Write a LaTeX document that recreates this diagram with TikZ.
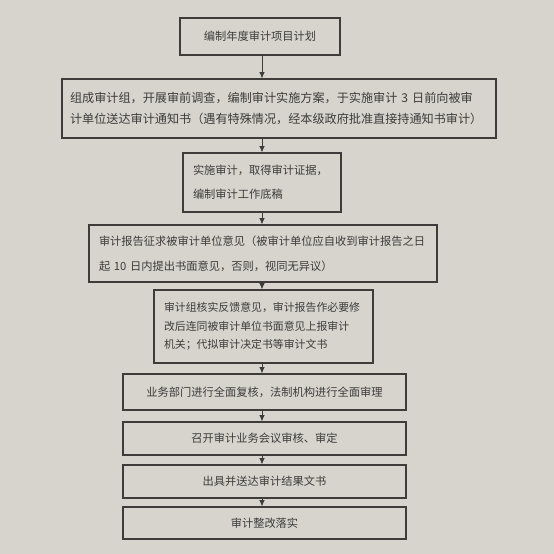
\documentclass[tikz,border=0pt]{standalone}
\usepackage{fontspec}
\setmainfont{Noto Sans CJK SC}
\usetikzlibrary{arrows.meta}
\definecolor{paper}{RGB}{214,212,205}
\definecolor{ink}{RGB}{62,60,58}
\tikzset{
    stage/.style={draw=ink, line width=0.7pt, fill=paper, text=ink, inner sep=0pt,
        font=\fontsize{6.4}{11}\selectfont},
    flow/.style={draw=ink, line width=0.5pt, -{Latex[length=3.6pt,width=3.2pt]}}
}
\begin{document}
\begin{tikzpicture}
        \fill[paper] (0,0) rectangle (11.08,-11.08);
        \coordinate (axis) at (5.24,0);
        \node[stage, minimum width=3.2cm, minimum height=0.74cm] (plan) at (5.2,-0.73) {编制年度审计项目计划};
        \node[stage, minimum width=8.68cm, minimum height=1.18cm, text width=8.36cm, align=left,
            font=\fontsize{6.9}{11.4}\selectfont] (notice) at (5.58,-2.17)
            {组成审计组，开展审前调查，编制审计实施方案，于实施审计 3 日前向被审\\计单位送达审计通知书（遇有特殊情况，经本级政府批准直接持通知书审计）};
        \node[stage, minimum width=3.16cm, minimum height=1.18cm, text width=2.76cm, align=left,
            font=\fontsize{6.4}{13.6}\selectfont] (work) at (5.24,-3.65)
            {实施审计，取得审计证据，\\编制审计工作底稿};
        \node[stage, minimum width=6.96cm, minimum height=1.14cm, text width=6.56cm, align=left,
            font=\fontsize{6.4}{14.2}\selectfont] (opinion) at (5.26,-5.07)
            {审计报告征求被审计单位意见（被审计单位应自收到审计报告之日\\起 10 日内提出书面意见，否则，视同无异议）};
        \node[stage, minimum width=4.38cm, minimum height=1.46cm, text width=3.98cm, align=left,
            font=\fontsize{6.2}{10.5}\selectfont] (report) at (5.27,-6.53)
            {审计组核实反馈意见，审计报告作必要修\\改后连同被审计单位书面意见上报审计\\机关；代拟审计决定书等审计文书};
        \node[stage, minimum width=5.66cm, minimum height=0.72cm] (review) at (5.29,-7.84) {业务部门进行全面复核，法制机构进行全面审理};
        \node[stage, minimum width=5.66cm, minimum height=0.66cm] (meeting) at (5.29,-8.77) {召开审计业务会议审核、审定};
        \node[stage, minimum width=5.66cm, minimum height=0.66cm] (issue) at (5.29,-9.63) {出具并送达审计结果文书};
        \node[stage, minimum width=5.66cm, minimum height=0.64cm] (rectify) at (5.29,-10.46) {审计整改落实};
        \foreach \a/\b in {plan/notice, notice/work, work/opinion, opinion/report,
            report/review, review/meeting, meeting/issue, issue/rectify} {
            \draw[flow] (\a.south -| axis) -- (\b.north -| axis);
        }
    \end{tikzpicture}
\end{document}
